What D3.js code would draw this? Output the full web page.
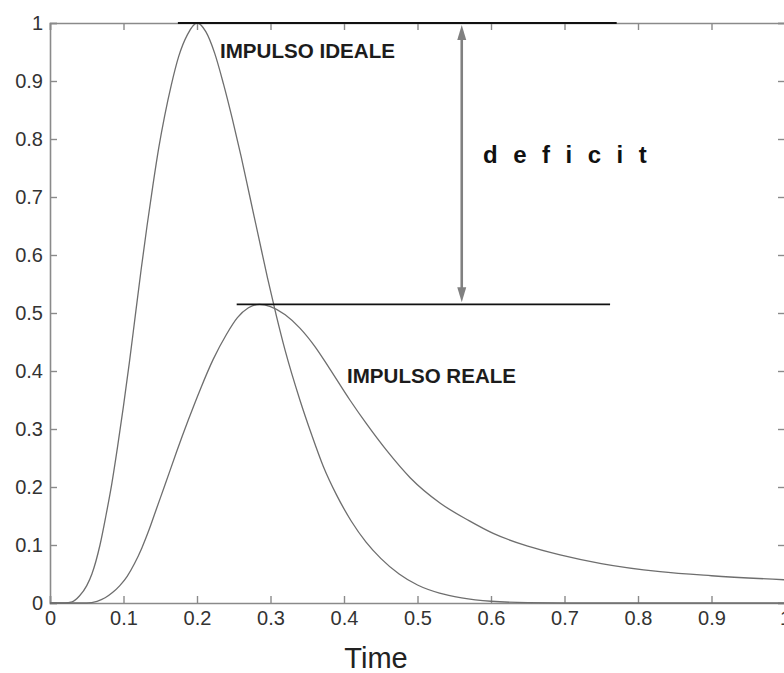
<!DOCTYPE html>
<html>
<head>
<meta charset="utf-8">
<script src="https://cdn.jsdelivr.net/npm/d3@7/dist/d3.min.js"></script>
<style>
  html, body { margin: 0; padding: 0; background: #fff; }
  svg { display: block; }
</style>
</head>
<body>
<svg id="chart" width="784" height="673"></svg>
<script>
// ---- data ----
const idealTime = [0, 0.02, 0.03, 0.04, 0.05, 0.057, 0.068, 0.076, 0.084, 0.092, 0.1, 0.108, 0.116, 0.124, 0.132, 0.14, 0.148, 0.156, 0.165, 0.175, 0.187, 0.2, 0.212, 0.224, 0.236, 0.248, 0.26, 0.272, 0.284, 0.296, 0.308, 0.32, 0.34, 0.356, 0.372, 0.39, 0.41, 0.43, 0.45, 0.475, 0.5, 0.53, 0.56, 0.6, 0.65, 0.7, 0.8, 1.0];
const idealValue = [0, 0, 0.002, 0.012, 0.03, 0.05, 0.1, 0.15, 0.205, 0.27, 0.34, 0.415, 0.495, 0.575, 0.65, 0.72, 0.785, 0.84, 0.893, 0.942, 0.98, 1.0, 0.985, 0.948, 0.895, 0.835, 0.77, 0.7, 0.63, 0.56, 0.495, 0.435, 0.35, 0.29, 0.235, 0.186, 0.141, 0.105, 0.077, 0.05, 0.031, 0.017, 0.009, 0.003, 0.0005, 0, 0, 0];

const realTime = [0, 0.05, 0.064, 0.075, 0.085, 0.095, 0.105, 0.115, 0.125, 0.135, 0.145, 0.156, 0.172, 0.188, 0.205, 0.222, 0.24, 0.255, 0.27, 0.285, 0.3, 0.32, 0.34, 0.36, 0.38, 0.408, 0.43, 0.458, 0.49, 0.531, 0.57, 0.603, 0.65, 0.694, 0.75, 0.83, 0.9, 1.0];
const realValue = [0, 0, 0.003, 0.009, 0.018, 0.03, 0.046, 0.068, 0.095, 0.127, 0.163, 0.202, 0.26, 0.315, 0.37, 0.42, 0.463, 0.492, 0.509, 0.515, 0.511, 0.497, 0.474, 0.443, 0.405, 0.35, 0.31, 0.263, 0.216, 0.172, 0.142, 0.12, 0.098, 0.083, 0.068, 0.054, 0.047, 0.04];

const xTicks = [0, 0.1, 0.2, 0.3, 0.4, 0.5, 0.6, 0.7, 0.8, 0.9, 1];
const yTicks = [0, 0.1, 0.2, 0.3, 0.4, 0.5, 0.6, 0.7, 0.8, 0.9, 1];

const idealPeakLine = [0.174, 0.771];   // x extent at y = 1
const realPeakLine = [0.254, 0.762];    // x extent at y = peak of real
const realPeak = 0.515;
const idealPeak = 1.0;
const deficitX = 0.5602;

const labelIdeal = "IMPULSO IDEALE";
const labelReal = "IMPULSO REALE";
const labelDeficit = "deficit";
const xTitle = "Time";

// ---- drawing ----
const svg = d3.select("#chart");
const x = d3.scaleLinear().domain([0, 1]).range([50, 785]);
const y = d3.scaleLinear().domain([0, 1]).range([603, 23]);

const axisColor = "#8a8a8a";
const tickFont = "Liberation Sans, Arial, sans-serif";

function styleAxis(g) {
  g.select(".domain").attr("stroke", axisColor).attr("stroke-width", 1.6);
  g.selectAll(".tick line").attr("stroke", axisColor).attr("stroke-width", 1.4);
  g.selectAll(".tick text").attr("fill", "#333").style("font-family", tickFont).style("font-size", "20px");
}

// bottom axis, inward ticks
const gx = svg.append("g").attr("transform", `translate(0,${y(0)})`)
  .call(d3.axisBottom(x).tickValues(xTicks).tickSize(-7).tickPadding(15).tickFormat(d3.format("")));
styleAxis(gx);
gx.selectAll(".tick text").attr("dy", "0.71em").attr("y", 8);

// left axis
const gy = svg.append("g").attr("transform", `translate(${x(0)},0)`)
  .call(d3.axisLeft(y).tickValues(yTicks).tickSize(-7).tickPadding(14).tickFormat(d3.format("")));
styleAxis(gy);
gy.selectAll(".tick text").attr("x", -7);

// top axis (box), inward ticks, no labels
const gt = svg.append("g").attr("transform", `translate(0,${y(1)})`)
  .call(d3.axisTop(x).tickValues(xTicks).tickSize(-7).tickFormat(""));
styleAxis(gt);

// right axis (box)
const gr = svg.append("g").attr("transform", `translate(${x(1)},0)`)
  .call(d3.axisRight(y).tickValues(yTicks).tickSize(-7).tickFormat(""));
styleAxis(gr);

// curves
const line = d3.line().x(d => x(d[0])).y(d => y(d[1])).curve(d3.curveMonotoneX);
const idealPts = idealTime.map((t, i) => [t, idealValue[i]]);
const realPts = realTime.map((t, i) => [t, realValue[i]]);

svg.append("path").datum(idealPts).attr("d", line)
  .attr("fill", "none").attr("stroke", "#6e6e6e").attr("stroke-width", 1.3);
svg.append("path").datum(realPts).attr("d", line)
  .attr("fill", "none").attr("stroke", "#6e6e6e").attr("stroke-width", 1.3);

// peak reference lines
svg.append("line")
  .attr("x1", x(idealPeakLine[0])).attr("x2", x(idealPeakLine[1]))
  .attr("y1", y(idealPeak)).attr("y2", y(idealPeak))
  .attr("stroke", "#111").attr("stroke-width", 1.8);
svg.append("line")
  .attr("x1", x(realPeakLine[0])).attr("x2", x(realPeakLine[1]))
  .attr("y1", y(realPeak)).attr("y2", y(realPeak))
  .attr("stroke", "#111").attr("stroke-width", 1.8);

// double-headed deficit arrow
const arrowColor = "#808080";
const ax = x(deficitX);
const yTop = y(idealPeak) + 2;
const yBot = y(realPeak) - 2;
const headLen = 15, headHalf = 4.5;
svg.append("line")
  .attr("x1", ax).attr("x2", ax)
  .attr("y1", yTop + headLen - 2).attr("y2", yBot - headLen + 2)
  .attr("stroke", arrowColor).attr("stroke-width", 2.6);
svg.append("path")
  .attr("d", `M${ax},${yTop} L${ax - headHalf},${yTop + headLen} L${ax + headHalf},${yTop + headLen} Z`)
  .attr("fill", arrowColor);
svg.append("path")
  .attr("d", `M${ax},${yBot} L${ax - headHalf},${yBot - headLen} L${ax + headHalf},${yBot - headLen} Z`)
  .attr("fill", arrowColor);

// annotations
const annFont = "Liberation Sans, Arial, sans-serif";
svg.append("text").text(labelIdeal)
  .attr("x", 220).attr("y", 58)
  .attr("textLength", 175).attr("lengthAdjust", "spacingAndGlyphs")
  .style("font-family", annFont).style("font-weight", "bold").style("font-size", "20px")
  .attr("fill", "#1c1c1c");
svg.append("text").text(labelReal)
  .attr("x", 347).attr("y", 383)
  .attr("textLength", 169).attr("lengthAdjust", "spacingAndGlyphs")
  .style("font-family", annFont).style("font-weight", "bold").style("font-size", "20px")
  .attr("fill", "#1c1c1c");
svg.append("text").text(labelDeficit)
  .attr("x", 483).attr("y", 163)
  .style("font-family", annFont).style("font-weight", "bold").style("font-size", "24px")
  .style("letter-spacing", "15.5px")
  .attr("fill", "#111");

// x title
svg.append("text").text(xTitle)
  .attr("x", 376).attr("y", 668).attr("text-anchor", "middle")
  .style("font-family", annFont).style("font-size", "29px")
  .attr("fill", "#222");
</script>
</body>
</html>
